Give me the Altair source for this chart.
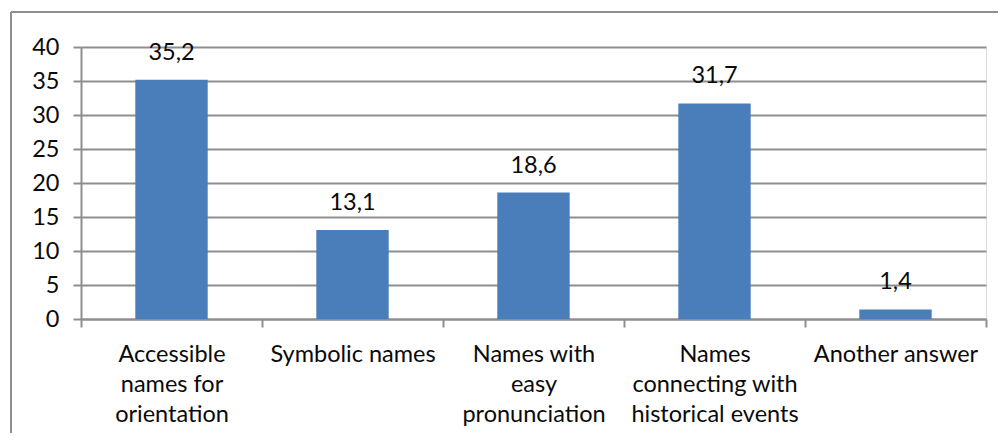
import altair as alt
import pandas as pd

categories = [
    "Accessible|names for|orientation",
    "Symbolic names",
    "Names with|easy|pronunciation",
    "Names|connecting with|historical events",
    "Another answer",
]
values = [35.2, 13.1, 18.6, 31.7, 1.4]
y_ticks = [0, 5, 10, 15, 20, 25, 30, 35, 40]

df = pd.DataFrame({"category": categories, "value": values})

FONT = "Lato"
GRAY = "#8e8e8e"
BLUE = "#4a7ebb"
TXT = "#0a0a0a"

W, H = 905, 272

x_enc = alt.X(
    "category:N",
    sort=None,
    scale=alt.Scale(paddingInner=0, paddingOuter=0),
    axis=alt.Axis(
        title=None,
        labelAngle=0,
        labelExpr="split(datum.label, '|')",
        labelFont=FONT,
        labelFontSize=23.5,
        labelColor=TXT,
        labelLineHeight=30,
        labelBaseline="top",
        labelPadding=15,
        labelOverlap=False,
        tickBand="extent",
        tickSize=8,
        tickColor=GRAY,
        tickWidth=2,
        domainColor=GRAY,
        domainWidth=2,
        grid=False,
    ),
)

y_enc = alt.Y(
    "value:Q",
    scale=alt.Scale(domain=[0, 40], nice=False),
    axis=alt.Axis(
        title=None,
        values=y_ticks,
        tickCount=20,
        labelOverlap=False,
        labelFont=FONT,
        labelFontSize=23.5,
        labelColor=TXT,
        labelPadding=14,
        tickSize=8,
        tickColor=GRAY,
        tickWidth=2,
        domainColor=GRAY,
        domainWidth=2,
        grid=True,
        gridColor=GRAY,
        gridWidth=2,
    ),
)

bars = alt.Chart(df).mark_bar(color=BLUE, width=alt.RelativeBandSize(0.4)).encode(
    x=x_enc, y=y_enc
)

labels = (
    alt.Chart(df)
    .transform_calculate(lbl="replace(format(datum.value, '.1f'), '.', ',')")
    .mark_text(font=FONT, fontSize=23.5, color=TXT, baseline="alphabetic", dy=-20)
    .encode(x=x_enc, y=y_enc, text="lbl:N")
)

frame_df = pd.DataFrame({"a": [0]})
left_border = alt.Chart(frame_df).mark_rule(color=GRAY, strokeWidth=2).encode(
    x=alt.value(-70), y=alt.value(-35), y2=alt.value(H + 200)
)
top_border = alt.Chart(frame_df).mark_rule(color=GRAY, strokeWidth=2).encode(
    x=alt.value(-70), x2=alt.value(W + 100), y=alt.value(-35)
)

chart = (
    alt.layer(bars, labels, left_border, top_border)
    .properties(
        width=W,
        height=H,
        autosize=alt.AutoSizeParams(type="none"),
        padding={"left": 73, "top": 39, "right": 12, "bottom": 114},
    )
    .configure_view(stroke=None)
    .configure(background="white")
)

chart.save("out.html", embed_options={"renderer": "svg", "actions": False})
